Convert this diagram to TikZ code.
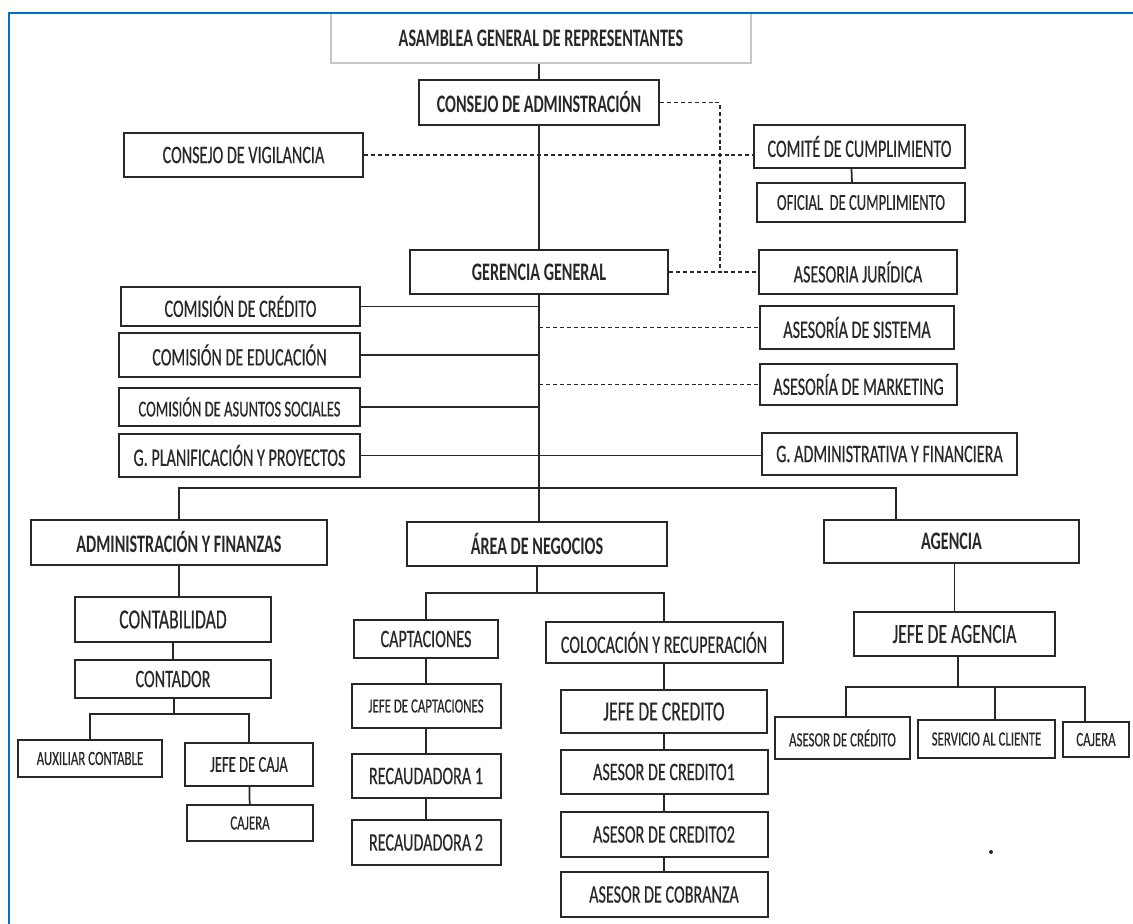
\documentclass[tikz,border=0pt]{standalone}
\usepackage{fontspec}
\setmainfont{Carlito}[FakeStretch=0.64, UprightFeatures={FakeBold=0.4}]
\usetikzlibrary{calc}
\newdimen\pxu \pxu=0.75pt
\definecolor{frameblue}{RGB}{0,112,192}
\definecolor{ink}{RGB}{40,40,40}

\begin{document}
\begin{tikzpicture}[x=0.75pt, y=-0.75pt, line width=1.3pt, draw=ink,
    box/.style 2 args={draw=ink, line width=1.5pt, rectangle, inner sep=0pt,
      minimum width=#1\pxu, minimum height=#2\pxu, text=ink,
      font=\fontsize{18.9}{20}\selectfont},
    head/.style={font=\fontsize{18.9}{20}\selectfont\bfseries},
    labbig/.style={font=\fontsize{20.7}{22}\selectfont},
    labmid/.style={font=\fontsize{17.1}{19}\selectfont},
    labsmall/.style={font=\fontsize{15.1}{17}\selectfont},
    dashline/.style={dash pattern=on 3pt off 2.2pt}]
    \useasboundingbox (0,0) rectangle (1133,924);

    % Nodes
    \node[box={420}{50}, head, draw=gray!45, line width=1pt] (asamblea) at (541,38) {ASAMBLEA GENERAL DE REPRESENTANTES};
    \node[box={240}{45}, head] (consejo) at (539,102.5) {CONSEJO DE ADMINSTRACIÓN};
    \node[box={239}{44}] (vigilancia) at (243.5,155) {CONSEJO DE VIGILANCIA};
    \node[box={211}{43}] (comite) at (859.5,146.5) {COMITÉ DE CUMPLIMIENTO};
    \node[box={208}{39}, labmid] (oficial) at (861,202.5) {OFICIAL\ \ DE CUMPLIMIENTO};
    \node[box={258}{44}, head] (gerencia) at (539,272) {GERENCIA GENERAL};
    \node[box={198}{44}] (juridica) at (858,272) {ASESORIA JURÍDICA};
    \node[box={194}{43}] (sistema) at (857,327.5) {ASESORÍA DE SISTEMA};
    \node[box={197}{41}] (marketing) at (858.5,384.5) {ASESORÍA DE MARKETING};
    \node[box={239}{39}] (comcredito) at (240.5,306.5) {COMISIÓN DE CRÉDITO};
    \node[box={241}{44}] (comeducacion) at (239.5,355) {COMISIÓN DE EDUCACIÓN};
    \node[box={241}{38}, labmid] (comsociales) at (239.5,407) {COMISIÓN DE ASUNTOS SOCIALES};
    \node[box={241}{43}] (planif) at (239.5,455.5) {G. PLANIFICACIÓN Y PROYECTOS};
    \node[box={255}{42}] (gadmin) at (889.5,454) {G. ADMINISTRATIVA Y FINANCIERA};
    \node[box={296}{45}, head] (adminfin) at (179,542.5) {ADMINISTRACIÓN Y FINANZAS};
    \node[box={260}{44}, head] (negocios) at (537,544) {ÁREA DE NEGOCIOS};
    \node[box={255}{43}, head] (agencia) at (951.5,541.5) {AGENCIA};
    \node[box={196}{45}, labbig] (contabilidad) at (173,619.5) {CONTABILIDAD};
    \node[box={196}{38}] (contador) at (173,679) {CONTADOR};
    \node[box={144}{37}, labsmall] (auxiliar) at (90,758.5) {AUXILIAR CONTABLE};
    \node[box={128}{43}, labmid] (jefecaja) at (249,764.5) {JEFE DE CAJA};
    \node[box={126}{36}, labsmall] (cajeraa) at (250,823) {CAJERA};
    \node[box={144}{38}] (captaciones) at (426,639) {CAPTACIONES};
    \node[box={149}{44}, labsmall] (jefecapt) at (426,706) {JEFE DE CAPTACIONES};
    \node[box={149}{44}] (recaud1) at (426,776) {RECAUDADORA 1};
    \node[box={149}{45}] (recaud2) at (426,842.5) {RECAUDADORA 2};
    \node[box={237}{41}] (colocacion) at (664,642.5) {COLOCACIÓN Y RECUPERACIÓN};
    \node[box={206}{43}, labbig] (jefecredito) at (664,711.5) {JEFE DE CREDITO};
    \node[box={207}{44}] (asesor1) at (664,772) {ASESOR DE CREDITO1};
    \node[box={207}{45}] (asesor2) at (664,834.5) {ASESOR DE CREDITO2};
    \node[box={207}{45}] (cobranza) at (664,894.5) {ASESOR DE COBRANZA};
    \node[box={201}{44}, labbig] (jefeagencia) at (954.5,634) {JEFE DE AGENCIA};
    \node[box={135}{42}, labsmall] (asesorag) at (842.5,738) {ASESOR DE CRÉDITO};
    \node[box={137}{38}, labsmall] (servicio) at (986.5,739) {SERVICIO AL CLIENTE};
    \node[box={66}{35}, labsmall] (cajerab) at (1096,739.5) {CAJERA};

    \coordinate (dcorner) at (720,272);
    \coordinate (agdrop) at (896,488);
    \coordinate (nbar) at (537,593);
    \coordinate (cbar) at (174,714);
    \coordinate (abar) at (958,687);
    \coordinate (adrop) at (846,687);
    \coordinate (sdrop) at (995,687);
    \coordinate (cdrop) at (1085,687);

    % Lines
    \draw (consejo.north |- asamblea.south) -- (consejo.north);
    \draw (consejo.south) -- (gerencia.north);
    \draw (gerencia.south) -- (gerencia.south |- negocios.north);
    \draw[dashline] (consejo.east) -| (dcorner);
    \draw[dashline] (gerencia.east) -- (juridica.west);
    \draw[dashline] (vigilancia.east) -- (vigilancia.east -| comite.west);
    \draw ($(comite.south)+(-8,0)$) -- ($(oficial.north)+(-9,0)$);
    \draw (comcredito.east) -- (comcredito.east -| gerencia.south);
    \draw (comeducacion.east) -- (comeducacion.east -| gerencia.south);
    \draw (comsociales.east) -- (comsociales.east -| gerencia.south);
    \draw (planif.east) -- (planif.east -| gadmin.west);
    \draw[dashline] (gerencia.south |- sistema.west) -- (sistema.west);
    \draw[dashline] (gerencia.south |- marketing.west) -- (marketing.west);
    \draw (adminfin.north) |- (agdrop) -- (agdrop |- agencia.north);
    \draw (negocios.south) -- (nbar);
    \draw (captaciones.north) |- (nbar) -| (colocacion.north);
    \draw (captaciones) -- (jefecapt);
    \draw (jefecapt) -- (recaud1);
    \draw (recaud1) -- (recaud2);
    \draw (colocacion) -- (jefecredito);
    \draw (jefecredito) -- (asesor1);
    \draw (asesor1) -- (asesor2);
    \draw (asesor2) -- (cobranza);
    \draw (adminfin.south) -- (adminfin.south |- contabilidad.north);
    \draw (contabilidad) -- (contador);
    \draw (contador.south -| cbar) -- (cbar);
    \draw (auxiliar.north) |- (cbar) -| (jefecaja.north);
    \draw (jefecaja) -- (cajeraa);
    \draw (jefeagencia.north |- agencia.south) -- (jefeagencia.north);
    \draw (abar |- jefeagencia.south) -- (abar);
    \draw (adrop |- asesorag.north) -- (adrop) -- (cdrop) -- (cdrop |- cajerab.north);
    \draw (sdrop) -- (sdrop |- servicio.north);
    \fill[ink] (991,852) circle[radius=1.5pt];

    % Frame
    \draw[frameblue, line width=1.6pt] (9,924) -- (9,13) -- (1133,13);
\end{tikzpicture}
\end{document}
